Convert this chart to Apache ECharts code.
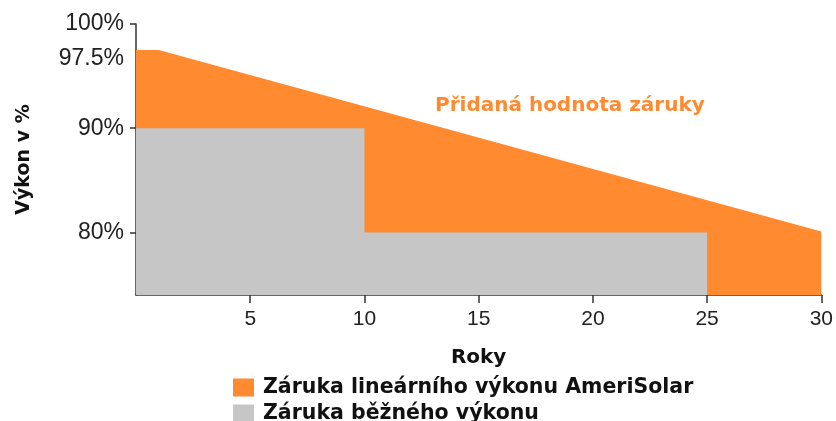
<!DOCTYPE html>
<html>
<head>
<meta charset="utf-8">
<script src="https://cdn.jsdelivr.net/npm/echarts@6/dist/echarts.min.js"></script>
<style>
  html, body { margin: 0; padding: 0; background: #fff; }
  #chart { width: 836px; height: 421px; }
</style>
</head>
<body>
<div id="chart"></div>
<script>
// data
var yearsOrange = [0, 1, 30];
var valuesOrange = [97.5, 97.5, 80.1];
var yearsGray = [0, 10, 10, 25];
var valuesGray = [90, 90, 80, 80];
var xTicks = [5, 10, 15, 20, 25, 30];
var yLabels = [80, 90, 97.5, 100];
var yTicks = [80, 90, 100];
var seriesNames = ['Záruka lineárního výkonu AmeriSolar', 'Záruka běžného výkonu'];

function pairs(xs, ys) {
  return xs.map(function (x, i) { return [x, ys[i]]; });
}

var chart = echarts.init(document.getElementById('chart'));

var legendText = { fontFamily: 'DejaVu Sans', fontWeight: 'bold', fontSize: 20.5, color: '#111', padding: [0, 0, 0, 4] };

var option = {
  animation: false,
  grid: { left: 136, right: 14, top: 24, bottom: 126 },
  // one legend per line, stacked
  legend: [
    {
      left: 228, top: 372,
      itemWidth: 21, itemHeight: 18, itemGap: 0,
      icon: 'rect',
      data: [seriesNames[0]],
      textStyle: legendText
    },
    {
      left: 228, top: 398,
      itemWidth: 21, itemHeight: 18, itemGap: 0,
      icon: 'rect',
      data: [seriesNames[1]],
      textStyle: legendText
    }
  ],
  xAxis: {
    type: 'value',
    min: 0,
    max: 30,
    interval: 5,
    name: 'Roky',
    nameLocation: 'middle',
    nameGap: 53,
    nameTextStyle: { fontFamily: 'DejaVu Sans', fontWeight: 'bold', fontSize: 20, color: '#111' },
    axisLine: { lineStyle: { color: '#333', width: 1.5 } },
    axisTick: { show: true, length: 8, customValues: xTicks, lineStyle: { color: '#333', width: 1.5 } },
    axisLabel: { customValues: xTicks, margin: 14, fontFamily: 'Liberation Sans', fontSize: 21, color: '#222' },
    splitLine: { show: false }
  },
  yAxis: {
    type: 'value',
    min: 74,
    max: 100,
    name: 'Výkon v %',
    nameLocation: 'middle',
    nameGap: 102,
    nameRotate: 90,
    nameTextStyle: { fontFamily: 'DejaVu Sans', fontWeight: 'bold', fontSize: 19, color: '#111' },
    axisLine: { show: true, lineStyle: { color: '#333', width: 1.5 } },
    axisTick: { show: true, length: 6, customValues: yTicks, lineStyle: { color: '#333', width: 1.5 } },
    axisLabel: {
      customValues: yLabels,
      margin: 12,
      fontFamily: 'Liberation Sans',
      fontSize: 23,
      color: '#222',
      formatter: function (v) {
        if (v === 97.5) return '{low|97.5%}';
        return v + '%';
      },
      rich: {
        low: { fontFamily: 'Liberation Sans', fontSize: 23, color: '#222', padding: [18, 0, 0, 0] }
      }
    },
    splitLine: { show: false }
  },
  graphic: [{
    type: 'text',
    left: 435,
    top: 96,
    style: {
      text: 'Přidaná hodnota záruky',
      fontFamily: 'DejaVu Sans',
      fontWeight: 'bold',
      fontSize: 20,
      fill: '#FF8A30'
    }
  }],
  series: [
    {
      name: seriesNames[0],
      type: 'line',
      data: pairs(yearsOrange, valuesOrange),
      showSymbol: false,
      lineStyle: { width: 0 },
      itemStyle: { color: '#FF8A30' },
      areaStyle: { color: '#FF8A30', opacity: 1, origin: 'start' },
      z: 1
    },
    {
      name: seriesNames[1],
      type: 'line',
      data: pairs(yearsGray, valuesGray),
      showSymbol: false,
      lineStyle: { width: 0 },
      itemStyle: { color: '#C6C6C6' },
      areaStyle: { color: '#C6C6C6', opacity: 1, origin: 'start' },
      z: 2
    }
  ]
};

chart.setOption(option);
</script>
</body>
</html>
